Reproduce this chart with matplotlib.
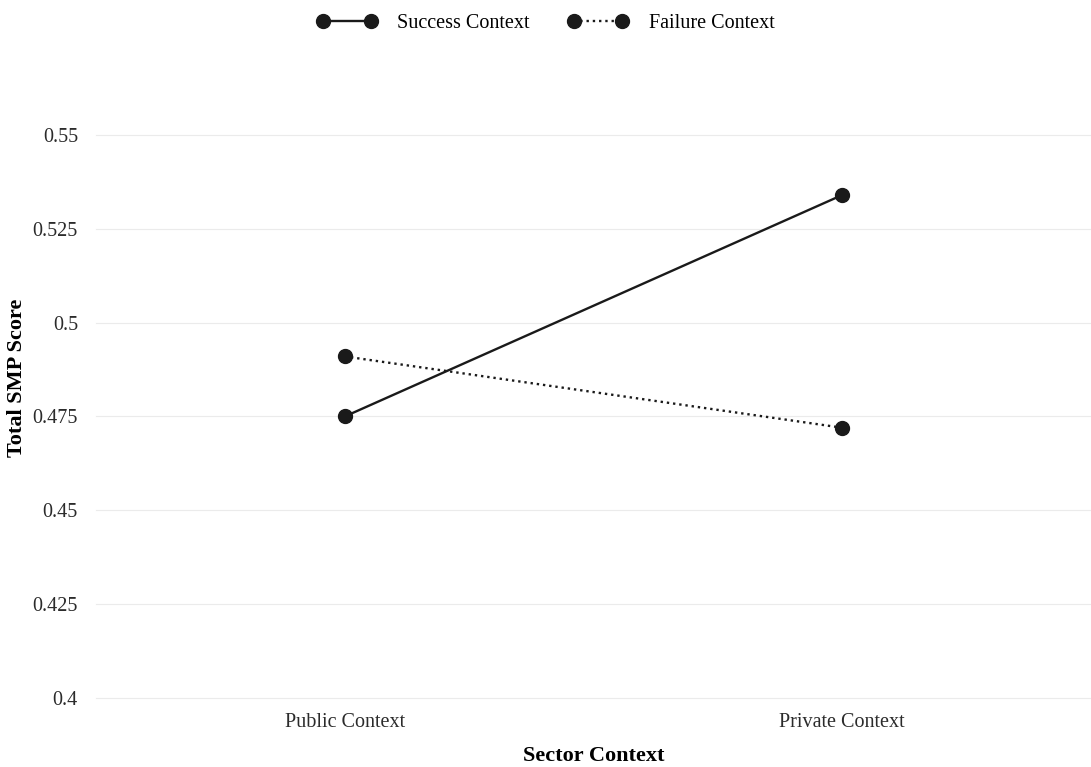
import numpy as np
import matplotlib.pyplot as plt

plt.rcParams['font.family'] = ['Liberation Serif', 'DejaVu Serif']

sectors = ['Public Context', 'Private Context']
success = [0.475, 0.534]
failure = [0.491, 0.472]
yticks = [0.4, 0.425, 0.45, 0.475, 0.5, 0.525, 0.55]
yticklabels = ['0.4', '0.425', '0.45', '0.475', '0.5', '0.525', '0.55']

ink = '#1a1a1a'

fig = plt.figure(figsize=(10.91, 7.67), dpi=100)
# panel runs a bit above the top break (0.55), as in the original
ax = fig.add_axes([96/1091, 69/767, 995/1091, 640/767])

x = np.arange(len(sectors))
ax.plot(x, success, color=ink, lw=1.7, ls='-', marker='o', ms=10, label='Success Context')
ax.plot(x, failure, color=ink, lw=1.7, ls=':', marker='o', ms=10, label='Failure Context')

ax.set_xlim(-0.5, 1.5)
ax.set_ylim(0.4, 0.5705)
ax.set_xticks(x)
ax.set_xticklabels(sectors)
ax.set_yticks(yticks)
ax.set_yticklabels(yticklabels)
ax.tick_params(length=0, labelsize=14.5, colors='#2b2b2b')
ax.tick_params(axis='y', pad=13)
ax.tick_params(axis='x', pad=11)
for s in ax.spines.values():
    s.set_visible(False)
ax.grid(axis='y', color='#ebebeb', lw=0.8)
for gl in ax.get_ygridlines():
    gl.set_clip_on(False)
ax.set_axisbelow(True)

ax.set_xlabel('Sector Context', fontsize=16, fontweight='bold', labelpad=10)
ax.set_ylabel('Total SMP Score', fontsize=16, fontweight='bold', labelpad=4)

fig.legend(loc='upper center', bbox_to_anchor=(0.5, 1.005), ncol=2, frameon=False,
           numpoints=2, handlelength=3.0, fontsize=14.5, columnspacing=1.9,
           handletextpad=1.0)

fig.savefig('out.png', dpi=100)
